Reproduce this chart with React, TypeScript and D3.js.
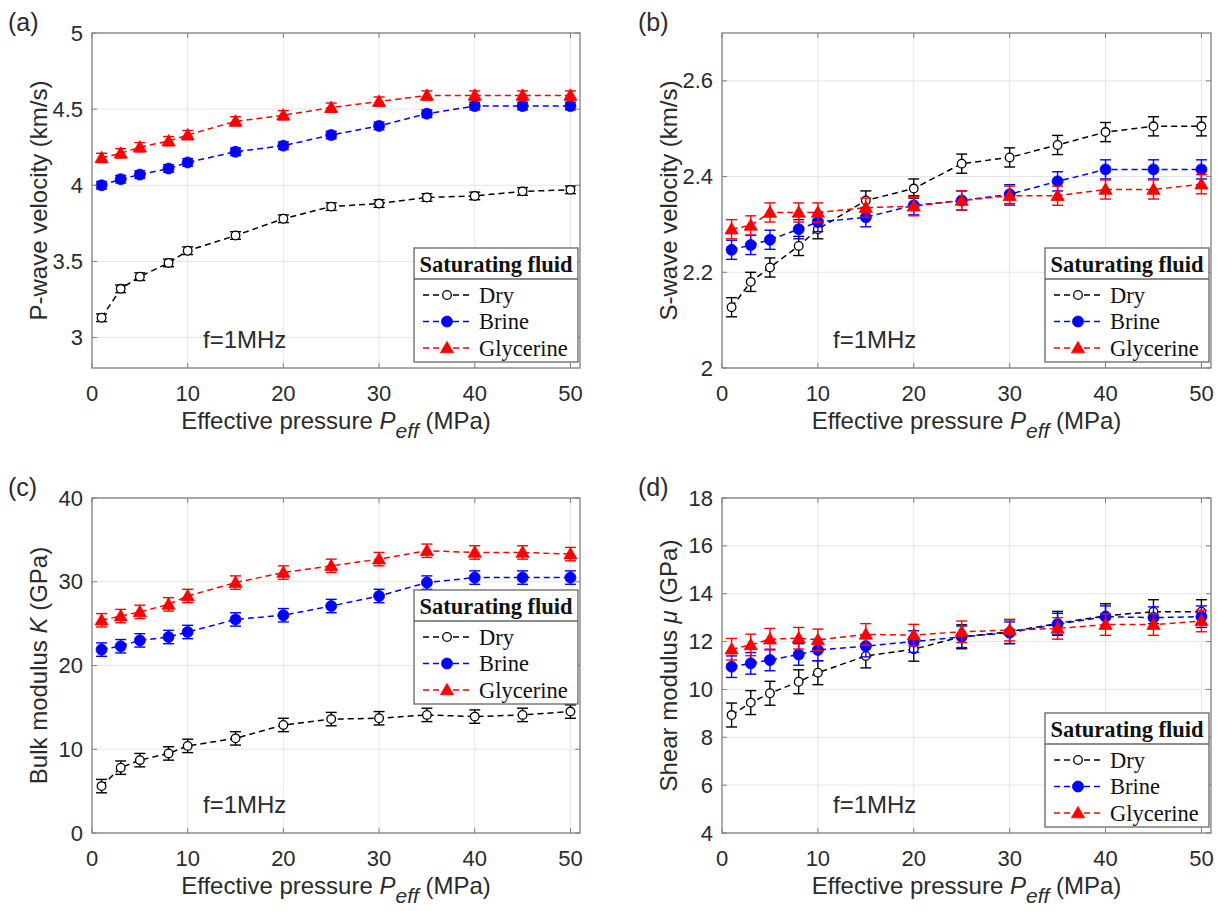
import React from 'react';
import * as d3 from 'd3';

// ---------- data ----------
const PRESSURE = [1, 3, 5, 8, 10, 15, 20, 25, 30, 35, 40, 45, 50];
const X_TICKS = [0, 10, 20, 30, 40, 50];
const SERIES_NAMES = ['Dry', 'Brine', 'Glycerine'];

const VP_DRY = [3.13, 3.32, 3.40, 3.49, 3.57, 3.67, 3.78, 3.86, 3.88, 3.92, 3.93, 3.96, 3.97];
const VP_BRINE = [4.00, 4.04, 4.07, 4.11, 4.15, 4.22, 4.26, 4.33, 4.39, 4.47, 4.52, 4.52, 4.52];
const VP_GLY = [4.18, 4.21, 4.25, 4.29, 4.33, 4.42, 4.46, 4.51, 4.55, 4.59, 4.59, 4.59, 4.59];
const VP_ERR = [0.025, 0.025, 0.03];
const VP_TICKS = [3, 3.5, 4, 4.5, 5];

const VS_DRY = [2.127, 2.18, 2.21, 2.255, 2.29, 2.35, 2.375, 2.427, 2.44, 2.466, 2.493, 2.505, 2.505];
const VS_BRINE = [2.247, 2.257, 2.268, 2.29, 2.305, 2.315, 2.34, 2.35, 2.363, 2.39, 2.415, 2.415, 2.415];
const VS_GLY = [2.29, 2.298, 2.325, 2.325, 2.325, 2.335, 2.338, 2.35, 2.36, 2.36, 2.373, 2.373, 2.384];
const VS_ERR = [0.02, 0.02, 0.02];
const VS_TICKS = [2, 2.2, 2.4, 2.6];

const K_DRY = [5.6, 7.8, 8.7, 9.5, 10.4, 11.3, 12.9, 13.6, 13.7, 14.1, 13.9, 14.1, 14.5];
const K_BRINE = [21.9, 22.3, 23.0, 23.4, 24.0, 25.5, 26.0, 27.1, 28.3, 29.9, 30.5, 30.5, 30.5];
const K_GLY = [25.4, 25.9, 26.4, 27.3, 28.3, 29.9, 31.1, 31.9, 32.7, 33.7, 33.5, 33.5, 33.3];
const K_ERR = [0.8, 0.8, 0.8];
const K_TICKS = [0, 10, 20, 30, 40];

const MU_DRY = [8.93, 9.45, 9.84, 10.32, 10.7, 11.4, 11.68, 12.2, 12.41, 12.76, 13.08, 13.25, 13.25];
const MU_BRINE = [10.95, 11.09, 11.23, 11.46, 11.65, 11.81, 12.0, 12.2, 12.37, 12.73, 13.04, 13.0, 13.04];
const MU_GLY = [11.68, 11.86, 12.1, 12.14, 12.07, 12.3, 12.27, 12.41, 12.48, 12.55, 12.71, 12.71, 12.86];
const MU_ERR = [0.5, 0.45, 0.45];
const MU_TICKS = [4, 6, 8, 10, 12, 14, 16, 18];

// ---------- styles ----------
const COLORS = ['#000000', '#0000ff', '#ff0000'];
const MARKERS = ['open', 'dot', 'tri'];
const SANS = '"Liberation Sans", Arial, Helvetica, sans-serif';
const SERIF = '"Liberation Serif", "Times New Roman", Times, serif';
const TEXT = '#2b2b2b';
const AXIS = '#808080';
const GRID = '#e6e6e6';

type PanelCfg = {
  tag: string;
  left: number; right: number; top: number; bottom: number;
  yDomain: [number, number];
  yTicks: number[];
  ylabel: React.ReactNode;
  data: number[][];
  err: number[];
  legendTop: number;
};

const PANELS: PanelCfg[] = [
  {
    tag: '(a)', left: 92, right: 580, top: 33, bottom: 368,
    yDomain: [2.8, 5], yTicks: VP_TICKS,
    ylabel: <tspan>P-wave velocity (km/s)</tspan>,
    data: [VP_DRY, VP_BRINE, VP_GLY], err: VP_ERR, legendTop: 248,
  },
  {
    tag: '(b)', left: 722, right: 1211, top: 33, bottom: 368,
    yDomain: [2, 2.7], yTicks: VS_TICKS,
    ylabel: <tspan>S-wave velocity (km/s)</tspan>,
    data: [VS_DRY, VS_BRINE, VS_GLY], err: VS_ERR, legendTop: 248,
  },
  {
    tag: '(c)', left: 92, right: 580, top: 498, bottom: 833,
    yDomain: [0, 40], yTicks: K_TICKS,
    ylabel: <><tspan>Bulk modulus </tspan><tspan fontStyle="italic">K</tspan><tspan> (GPa)</tspan></>,
    data: [K_DRY, K_BRINE, K_GLY], err: K_ERR, legendTop: 590,
  },
  {
    tag: '(d)', left: 722, right: 1211, top: 498, bottom: 833,
    yDomain: [4, 18], yTicks: MU_TICKS,
    ylabel: <><tspan>Shear modulus </tspan><tspan fontStyle="italic">μ</tspan><tspan> (GPa)</tspan></>,
    data: [MU_DRY, MU_BRINE, MU_GLY], err: MU_ERR, legendTop: 713,
  },
];

function Marker({ kind, x, y, color }: { kind: string; x: number; y: number; color: string }) {
  if (kind === 'open') {
    return <circle cx={x} cy={y} r={4.3} fill="#fff" stroke={color} strokeWidth={1.3} />;
  }
  if (kind === 'dot') {
    return <circle cx={x} cy={y} r={5.5} fill={color} stroke={color} strokeWidth={0.8} />;
  }
  const path = d3.symbol(d3.symbolTriangle, 75)() as string;
  return <path d={path} transform={`translate(${x},${y + 1})`} fill={color} stroke={color} strokeWidth={0.8} />;
}

function Panel({ cfg }: { cfg: PanelCfg }) {
  const x = d3.scaleLinear().domain([0, 51]).range([cfg.left, cfg.right]);
  const y = d3.scaleLinear().domain(cfg.yDomain).range([cfg.bottom, cfg.top]);
  const line = d3.line<[number, number]>().x((d) => x(d[0])).y((d) => y(d[1]));
  const cx = (cfg.left + cfg.right) / 2;
  const cy = (cfg.top + cfg.bottom) / 2;
  const capW = 5.5;
  const lgRight = cfg.right - 2;
  const lgLeft = lgRight - 164;
  const lgTop = cfg.legendTop;
  const lgH = 114;
  const fmt = (v: number) => String(v);

  return (
    <g>
      {/* grid */}
      {X_TICKS.filter((t) => t > 0).map((t) => (
        <line key={'gx' + t} x1={x(t)} x2={x(t)} y1={cfg.top} y2={cfg.bottom} stroke={GRID} strokeWidth={1} />
      ))}
      {cfg.yTicks.map((t) => (
        <line key={'gy' + t} x1={cfg.left} x2={cfg.right} y1={y(t)} y2={y(t)} stroke={GRID} strokeWidth={1} />
      ))}

      {/* series */}
      {cfg.data.map((vals, si) => {
        const pts = PRESSURE.map((p, i) => [p, vals[i]] as [number, number]);
        const e = cfg.err[si];
        return (
          <g key={'s' + si}>
            {pts.map(([px, py], i) => (
              <g key={'e' + i} stroke={COLORS[si]} strokeWidth={1.4}>
                <line x1={x(px)} x2={x(px)} y1={y(py - e)} y2={y(py + e)} />
                <line x1={x(px) - capW} x2={x(px) + capW} y1={y(py - e)} y2={y(py - e)} />
                <line x1={x(px) - capW} x2={x(px) + capW} y1={y(py + e)} y2={y(py + e)} />
              </g>
            ))}
            <path d={line(pts) as string} fill="none" stroke={COLORS[si]} strokeWidth={1.5} strokeDasharray="6,4" />
            {pts.map(([px, py], i) => (
              <Marker key={'m' + i} kind={MARKERS[si]} x={x(px)} y={y(py)} color={COLORS[si]} />
            ))}
          </g>
        );
      })}

      {/* axes box + ticks */}
      <rect x={cfg.left} y={cfg.top} width={cfg.right - cfg.left} height={cfg.bottom - cfg.top} fill="none" stroke={AXIS} strokeWidth={1.3} />
      {X_TICKS.map((t) => (
        <g key={'tx' + t} stroke={AXIS} strokeWidth={1}>
          <line x1={x(t)} x2={x(t)} y1={cfg.bottom} y2={cfg.bottom - 5} />
          <line x1={x(t)} x2={x(t)} y1={cfg.top} y2={cfg.top + 5} />
        </g>
      ))}
      {cfg.yTicks.map((t) => (
        <g key={'ty' + t} stroke={AXIS} strokeWidth={1}>
          <line x1={cfg.left} x2={cfg.left + 5} y1={y(t)} y2={y(t)} />
          <line x1={cfg.right} x2={cfg.right - 5} y1={y(t)} y2={y(t)} />
        </g>
      ))}

      {/* tick labels */}
      {X_TICKS.map((t) => (
        <text key={'lx' + t} x={x(t)} y={cfg.bottom + 25} textAnchor="middle" dominantBaseline="central"
          fontFamily={SANS} fontSize={22} fill={TEXT}>{fmt(t)}</text>
      ))}
      {cfg.yTicks.map((t) => (
        <text key={'ly' + t} x={cfg.left - 9} y={y(t)} textAnchor="end" dominantBaseline="central"
          fontFamily={SANS} fontSize={22} fill={TEXT}>{fmt(t)}</text>
      ))}

      {/* axis labels */}
      <text x={cx} y={cfg.bottom + 61} textAnchor="middle" fontFamily={SANS} fontSize={24} fill={TEXT}>
        <tspan>Effective pressure </tspan>
        <tspan fontStyle="italic">P</tspan>
        <tspan fontStyle="italic" fontSize={21} dy={9}>eff</tspan>
        <tspan dy={-9}> (MPa)</tspan>
      </text>
      <text transform={`translate(${cfg.left - 54},${cy}) rotate(-90)`} textAnchor="middle" dominantBaseline="central"
        fontFamily={SANS} fontSize={24} fill={TEXT}>
        {cfg.ylabel}
      </text>

      {/* panel tag */}
      <text x={cfg.left - 84} y={cfg.top - 11} dominantBaseline="central" fontFamily={SANS} fontSize={25} fill={TEXT}>{cfg.tag}</text>

      {/* annotation */}
      <text x={cfg.left + 111} y={cfg.bottom - 29} dominantBaseline="central" fontFamily={SANS} fontSize={24} fill={TEXT}>f=1MHz</text>

      {/* legend */}
      <g>
        <rect x={lgLeft} y={lgTop} width={lgRight - lgLeft} height={lgH} fill="#fff" stroke="#666" strokeWidth={1.3} />
        <line x1={lgLeft} x2={lgRight} y1={lgTop + 31} y2={lgTop + 31} stroke="#666" strokeWidth={1.3} />
        <text x={(lgLeft + lgRight) / 2} y={lgTop + 16} textAnchor="middle" dominantBaseline="central"
          fontFamily={SERIF} fontWeight="bold" fontSize={22.5} fill="#111">Saturating fluid</text>
        {SERIES_NAMES.map((name, si) => {
          const ry = lgTop + 47 + si * 26.5;
          return (
            <g key={'lg' + si}>
              <line x1={lgLeft + 9} x2={lgLeft + 57} y1={ry} y2={ry} stroke={COLORS[si]} strokeWidth={1.5} strokeDasharray="6,4" />
              <Marker kind={MARKERS[si]} x={lgLeft + 33} y={ry} color={COLORS[si]} />
              <text x={lgLeft + 65} y={ry} dominantBaseline="central" fontFamily={SERIF} fontSize={22.5} fill="#111">{name}</text>
            </g>
          );
        })}
      </g>
    </g>
  );
}

export default function App() {
  return (
    <svg width={1219} height={911} viewBox="0 0 1219 911"
      style={{ position: 'absolute', left: 0, top: 0, background: '#fff' }}>
      <rect x={0} y={0} width={1219} height={911} fill="#fff" />
      {PANELS.map((p) => (
        <Panel key={p.tag} cfg={p} />
      ))}
    </svg>
  );
}
